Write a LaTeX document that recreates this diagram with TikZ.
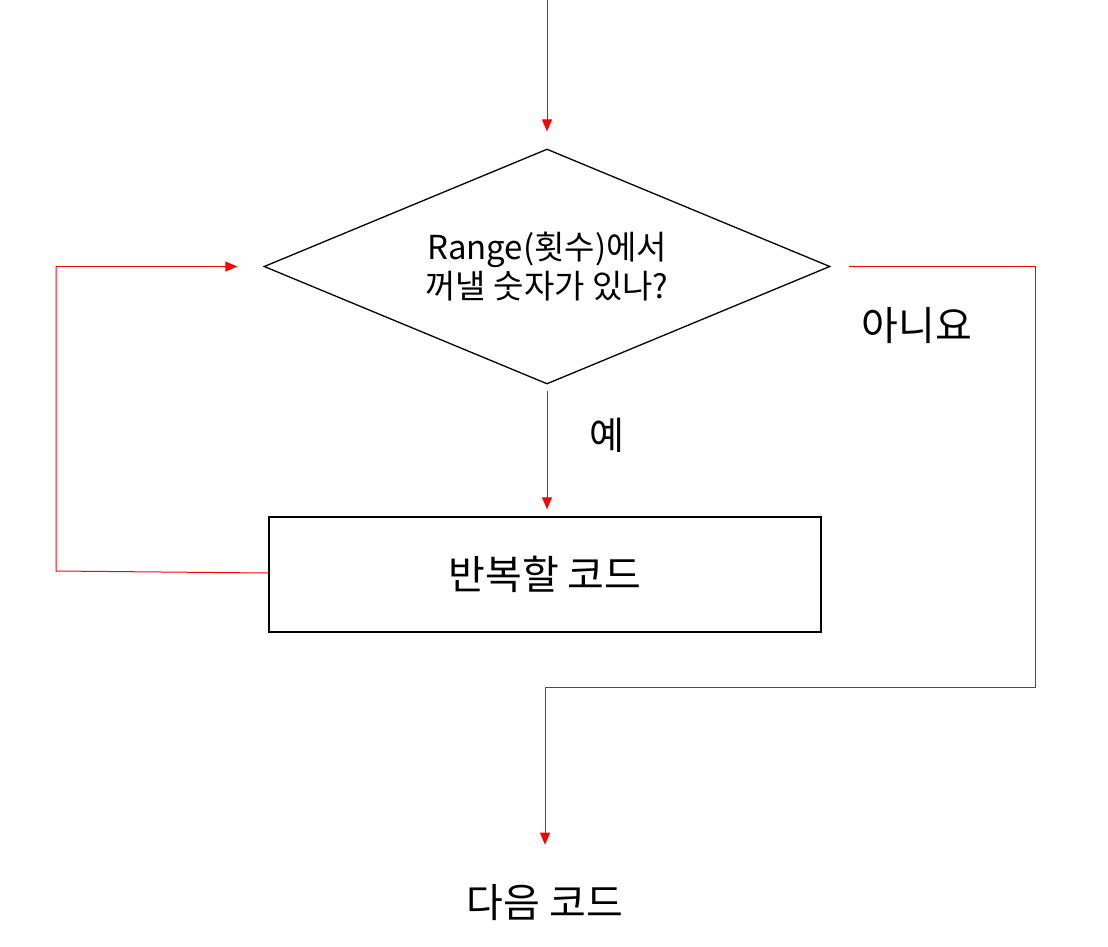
\documentclass[tikz,border=0pt]{standalone}
\usepackage{fontspec}
\setmainfont{Noto Sans CJK KR}
\usetikzlibrary{shapes.geometric,arrows.meta}
\begin{document}
\begin{tikzpicture}[x=1pt,y=-1pt,
  flow/.style={draw=red,line width=1pt,-{Triangle[length=12pt,width=10pt]}},
  plain/.style={draw=red,line width=1pt},
  decision/.style={diamond,draw=black,line width=1.3pt,minimum width=566pt,minimum height=235pt,aspect=2.41,inner sep=0pt,align=center,font=\fontsize{33}{39}\selectfont},
  process/.style={rectangle,draw=black,line width=1.5pt,minimum width=552pt,minimum height=115pt,font=\fontsize{40}{46}\selectfont},
  label/.style={font=\fontsize{40}{46}\selectfont,inner sep=0pt}]
\useasboundingbox (0,0) rectangle (1108,946);
\coordinate (start) at (547,0);
\node[decision] (d) at (547,266.5) {Range(횟수)에서\\꺼낼 숫자가 있나?};
\node[process] (p) at (545,574.5) {반복할 코드};
\node[label] (next) at (545,903) {다음 코드};
\node[label,font=\fontsize{38}{44}\selectfont] (yes) at (607,435) {예};
\node[label] (no) at (917,326) {아니요};
\coordinate (l1) at (56,571);
\coordinate (l2) at (56,266.5);
\coordinate (r1) at (1035,266.5);
\coordinate (r2) at (1035,687.5);
\coordinate (r3) at (545,687.5);
\draw[flow,shorten <=6pt,shorten >=7pt] (d.south) -- (d.south |- p.north);
\draw[flow,shorten >=17pt] (start) -- (d.north);
\draw[plain] ([yshift=1.5pt]p.west) -- (l1) -- (l2);
\draw[flow,shorten >=26pt] (l2) -- (d.west);
\draw[plain,shorten <=18pt] (d.east) -- (r1) -- (r2) -- (r3);
\draw[flow,shorten >=40pt] (r3) -- (next.north);
\end{tikzpicture}
\end{document}
